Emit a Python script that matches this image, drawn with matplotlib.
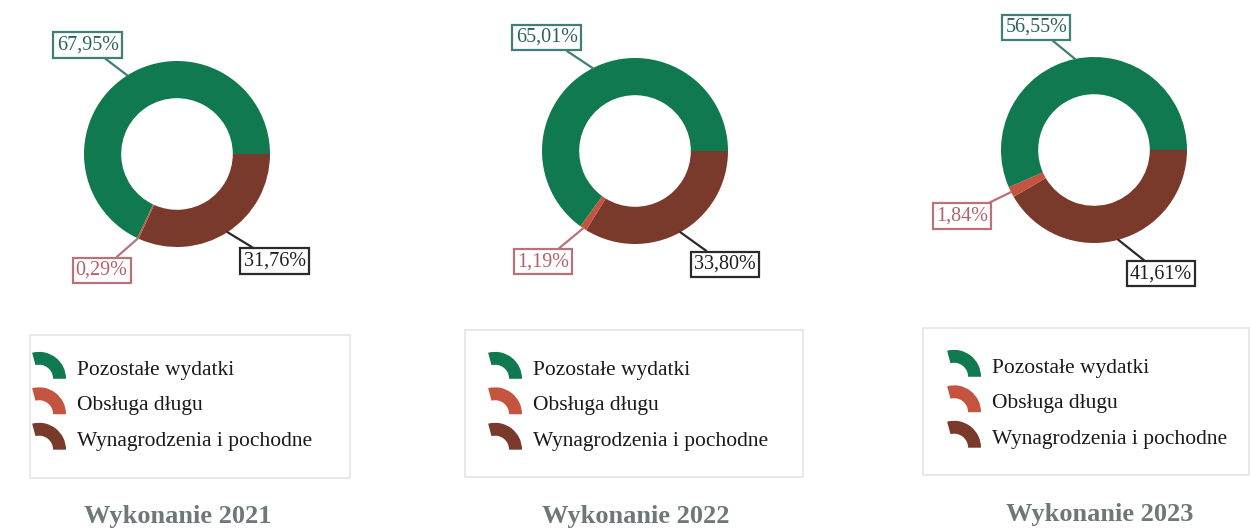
import numpy as np
import matplotlib.pyplot as plt
from matplotlib.patches import Wedge, Rectangle
from matplotlib.legend_handler import HandlerPatch

plt.rcParams['font.family'] = ['Liberation Serif', 'DejaVu Serif']

# udział grup wydatków w wykonaniu budżetu (%)
years = ['2021', '2022', '2023']
categories = ['Wynagrodzenia i pochodne', 'Obsługa długu', 'Pozostałe wydatki']
wynagrodzenia = [31.76, 33.80, 41.61]
obsluga = [0.29, 1.19, 1.84]
pozostale = [67.95, 65.01, 56.55]

colors = ['#7a3a2b', '#c4533f', '#11794f']
label_text = ['#1e1e1e', '#b4606a', '#2c615b']
label_edge = ['#2a2a2a', '#b9727a', '#3f7f77']

W, H = 1250, 528
R = 93  # promień pierścienia w pikselach

# środki pierścieni (px od lewej / od góry)
centers = [(177, 154), (635, 151), (1094, 150)]
# przesunięcia etykiet względem środka, w promieniach: wynagrodzenia, obsługa, pozostałe
label_pos = [
    [(1.05, -1.15), (-0.81, -1.25), (-0.96, 1.17)],
    [(0.97, -1.22), (-0.99, -1.19), (-0.95, 1.22)],
    [(0.72, -1.33), (-1.42, -0.71), (-0.62, 1.32)],
]
legend_frames = [(30, 335, 350, 478), (465, 330, 803, 477), (923, 328, 1249, 475)]
legend_anchor = [(32, 356), (488, 356), (947, 354)]
title_pos = [(178, 517), (636, 517), (1100, 514)]


def arc_icon(legend, orig_handle, xdescent, ydescent, width, height, fontsize):
    # łuk jak wycinek pierścienia, środek w lewym dolnym rogu pola
    r = height + ydescent
    return Wedge((-xdescent + width - r, -ydescent), r, 0, 105, width=r * 0.48)


fig = plt.figure(figsize=(W / 100, H / 100), dpi=100)

for i, year in enumerate(years):
    vals = [wynagrodzenia[i], obsluga[i], pozostale[i]]
    cx, cy = centers[i]
    ax = fig.add_axes([0, 0, 1, 1])
    wedges, _ = ax.pie(vals, colors=colors, startangle=0, counterclock=False,
                       radius=1, wedgeprops=dict(width=0.4, linewidth=0))

    for j, w in enumerate(wedges):
        mid = np.deg2rad((w.theta1 + w.theta2) / 2)
        ax.annotate(f'{vals[j]:.2f}%'.replace('.', ','),
                    xy=(np.cos(mid), np.sin(mid)), xytext=label_pos[i][j],
                    ha='center', va='center', fontsize=14.5, color=label_text[j],
                    bbox=dict(boxstyle='square,pad=0.16', fc='white',
                              ec=label_edge[j], lw=1.6),
                    arrowprops=dict(arrowstyle='-', color=label_edge[j], lw=1.6,
                                    shrinkA=0, shrinkB=0))

    ax.set_xlim(-cx / R, (W - cx) / R)
    ax.set_ylim((cy - H) / R, cy / R)
    ax.set_aspect('auto')
    ax.axis('off')

    x0, y0, x1, y1 = legend_frames[i]
    fig.patches.append(Rectangle((x0 / W, 1 - y1 / H), (x1 - x0) / W, (y1 - y0) / H,
                                 transform=fig.transFigure, fill=False,
                                 ec='#e4e4e4', lw=1.2))

    lx, ly = legend_anchor[i]
    ax.legend(wedges[::-1], categories[::-1], loc='upper left',
              bbox_to_anchor=(lx / W, 1 - ly / H), bbox_transform=fig.transFigure,
              frameon=False, fontsize=15.5, borderpad=0, borderaxespad=0,
              handlelength=1.58, handleheight=1.25, handletextpad=0.51,
              labelspacing=0.55, labelcolor='#1a1a1a',
              handler_map={Wedge: HandlerPatch(patch_func=arc_icon)})

    tx, ty = title_pos[i]
    fig.text(tx / W, 1 - ty / H, f'Wykonanie {year}', ha='center', va='center',
             fontsize=19, fontweight='bold', color='#6f7878')

fig.savefig('out.png', dpi=100, facecolor='white')
